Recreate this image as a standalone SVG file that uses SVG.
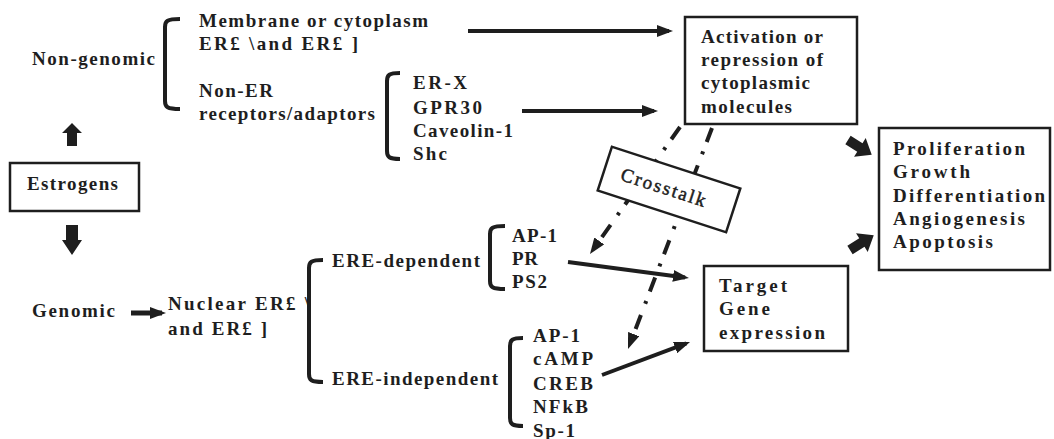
<svg xmlns="http://www.w3.org/2000/svg" width="1054" height="439" viewBox="0 0 1054 439">
<style>
.t{font-family:'Liberation Serif','Times New Roman','DejaVu Serif',serif;font-weight:700;font-size:19px;fill:#1e1e1e}
.r{font-weight:400;stroke:#1e1e1e;stroke-width:0.5}
.box{fill:#fff;stroke:#1e1e1e;stroke-width:2.5}
.br{fill:none;stroke:#1e1e1e;stroke-width:4}
.ln{fill:none;stroke:#1e1e1e;stroke-width:4}
.dd{stroke-dasharray:15 10 3 12}
.blk{fill:#1e1e1e}
</style>
<defs>
<marker id="ah" viewBox="0 0 16 12" refX="12" refY="6" markerWidth="16" markerHeight="12" markerUnits="userSpaceOnUse" orient="auto">
<path d="M0,0 L16,6 L0,12 z" fill="#1e1e1e"/>
</marker>
</defs>
<rect width="1054" height="439" fill="#fff"/>

<g id="connectors">
<line class="ln" x1="468" y1="31" x2="669" y2="31" marker-end="url(#ah)"/>
<line class="ln" x1="522" y1="111" x2="654" y2="111" marker-end="url(#ah)"/>
<line class="ln" x1="131" y1="313" x2="162" y2="313" style="stroke-width:5" marker-end="url(#ah)"/>
<line class="ln dd" x1="680" y1="127" x2="592.3" y2="250.7" marker-end="url(#ah)"/>
<line class="ln dd" x1="712" y1="128" x2="629.4" y2="345.3" marker-end="url(#ah)"/>
<line class="ln" x1="568" y1="262" x2="685" y2="277.5" marker-end="url(#ah)"/>
<line class="ln" x1="602" y1="375" x2="686.3" y2="343.4" marker-end="url(#ah)"/>
<polygon class="blk" points="72,123 82,133 77,133 77,146 67,146 67,133 62,133"/>
<polygon class="blk" points="66,225 78,225 78,240 82,240 72,255 62,240 66,240"/>
<polygon class="blk" transform="translate(848,140) rotate(32)" points="0,-5 14,-5 14,-11 28,0 14,11 14,5 0,5"/>
<polygon class="blk" transform="translate(850,250) rotate(-32)" points="0,-5 14,-5 14,-11 28,0 14,11 14,5 0,5"/>
</g>

<g id="non-genomic">
<text class="t" x="32" y="65" textLength="123" lengthAdjust="spacing">Non-genomic</text>
<path class="br" d="M180,19 C167,19 165,21 165,27 L165,101 C165,107 167,109 180,109"/>
</g>

<g id="membrane">
<text class="t" x="199" y="27" textLength="229" lengthAdjust="spacing">Membrane or cytoplasm</text>
<text class="t" x="199" y="50" textLength="159" lengthAdjust="spacing">ER£ \and ER£ ]</text>
</g>

<g id="non-er">
<text class="t" x="199" y="97" textLength="74" lengthAdjust="spacing">Non-ER</text>
<text class="t" x="199" y="120" textLength="176" lengthAdjust="spacing">receptors/adaptors</text>
<path class="br" d="M400,73 C389,73 387,75 387,81 L387,151 C387,157 389,159 400,159"/>
</g>

<g id="er-x-list">
<text class="t" x="413" y="89" textLength="54" lengthAdjust="spacing">ER-X</text>
<text class="t" x="413" y="114" textLength="69" lengthAdjust="spacing">GPR30</text>
<text class="t" x="413" y="137" textLength="100" lengthAdjust="spacing">Caveolin-1</text>
<text class="t" x="413" y="160" textLength="34" lengthAdjust="spacing">Shc</text>
</g>

<g id="activation">
<rect class="box" x="685" y="17" width="172" height="107"/>
<text class="t" x="701" y="43" textLength="122" lengthAdjust="spacing">Activation or</text>
<text class="t" x="701" y="66" textLength="122" lengthAdjust="spacing">repression of</text>
<text class="t" x="701" y="89" textLength="109" lengthAdjust="spacing">cytoplasmic</text>
<text class="t" x="701" y="113" textLength="91" lengthAdjust="spacing">molecules</text>
</g>

<g id="proliferation">
<rect class="box" x="879" y="128" width="171" height="142"/>
<text class="t" x="893" y="155" textLength="132" lengthAdjust="spacing">Proliferation</text>
<text class="t" x="893" y="178" textLength="77" lengthAdjust="spacing">Growth</text>
<text class="t" x="893" y="202" textLength="152" lengthAdjust="spacing">Differentiation</text>
<text class="t" x="893" y="225" textLength="132" lengthAdjust="spacing">Angiogenesis</text>
<text class="t" x="893" y="248" textLength="100" lengthAdjust="spacing">Apoptosis</text>
</g>

<g id="estrogens">
<rect class="box" x="10" y="163" width="129" height="48"/>
<text class="t" x="27" y="190" textLength="91" lengthAdjust="spacing">Estrogens</text>
</g>

<g id="crosstalk">
<g transform="translate(669,189.5) rotate(18)">
<rect class="box" x="-67.5" y="-23" width="135" height="46"/>
<text class="t r" x="-6" y="6" text-anchor="middle" textLength="88" lengthAdjust="spacing">Crosstalk</text>
</g>
</g>

<g id="genomic">
<text class="t" x="32" y="317" textLength="83" lengthAdjust="spacing">Genomic</text>
</g>

<g id="nuclear">
<text class="t" x="168" y="310" textLength="142" lengthAdjust="spacing">Nuclear ER£ \</text>
<text class="t" x="168" y="335" textLength="99" lengthAdjust="spacing">and ER£ ]</text>
<path class="br" d="M323,260 C311,260 309,262 309,268 L309,374 C309,380 311,382 323,382"/>
</g>

<g id="ere-dependent">
<text class="t" x="332" y="267" textLength="148" lengthAdjust="spacing">ERE-dependent</text>
<path class="br" d="M505,226 C492,226 490,228 490,234 L490,281 C490,287 492,289 505,289"/>
<text class="t" x="512" y="242" textLength="45" lengthAdjust="spacing">AP-1</text>
<text class="t" x="512" y="265" textLength="26" lengthAdjust="spacing">PR</text>
<text class="t" x="512" y="288" textLength="35" lengthAdjust="spacing">PS2</text>
</g>

<g id="ere-independent">
<text class="t" x="332" y="385" textLength="166" lengthAdjust="spacing">ERE-independent</text>
<path class="br" d="M523,338 C512,338 510,340 510,346 L510,418 C510,424 512,426 523,426"/>
<text class="t" x="533" y="342" textLength="47" lengthAdjust="spacing">AP-1</text>
<text class="t" x="533" y="365" textLength="60" lengthAdjust="spacing">cAMP</text>
<text class="t" x="533" y="390" textLength="60" lengthAdjust="spacing">CREB</text>
<text class="t" x="533" y="413" textLength="55" lengthAdjust="spacing">NFkB</text>
<text class="t" x="533" y="437" textLength="42" lengthAdjust="spacing">Sp-1</text>
</g>

<g id="target">
<rect class="box" x="704" y="266" width="144" height="85"/>
<text class="t" x="719" y="292" textLength="68" lengthAdjust="spacing">Target</text>
<text class="t" x="719" y="315" textLength="51" lengthAdjust="spacing">Gene</text>
<text class="t" x="719" y="339" textLength="106" lengthAdjust="spacing">expression</text>
</g>
</svg>
